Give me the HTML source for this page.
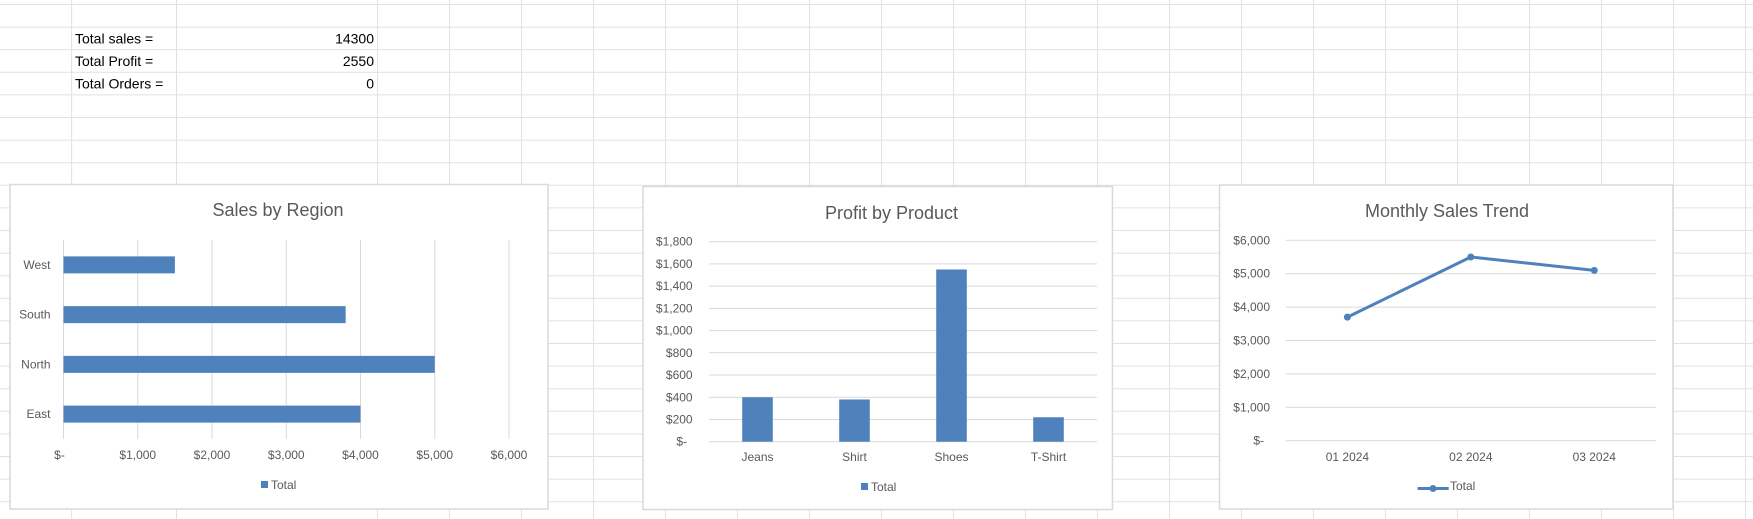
<!DOCTYPE html>
<html><head><meta charset="utf-8"><style>
html,body{margin:0;padding:0;background:#fff;}
svg{display:block;font-family:"Liberation Sans",sans-serif;}
</style></head><body>
<svg id="s" width="1753" height="519" viewBox="0 0 1753 519">
<g id="grid"></g>
<g font-size="14" fill="#000">
<text x="75" y="43.5">Total sales =</text>
<text x="374" y="43.5" text-anchor="end">14300</text>
<text x="75" y="66">Total Profit =</text>
<text x="374" y="66" text-anchor="end">2550</text>
<text x="75" y="88.5">Total Orders =</text>
<text x="374" y="88.5" text-anchor="end">0</text>
</g>
<g id="c1"></g>
<g id="c2"></g>
<g id="c3"></g>
</svg>
<script>
// Chart 1 data
const regionCats = ["West","South","North","East"];
const regionSales = [1500,3800,5000,4000];
const regionTicks = [0,1000,2000,3000,4000,5000,6000];
const regionTickLabels = ["$-","$1,000","$2,000","$3,000","$4,000","$5,000","$6,000"];
// Chart 2 data
const productCats = ["Jeans","Shirt","Shoes","T-Shirt"];
const productProfit = [400,380,1550,220];
const profitTicks = [0,200,400,600,800,1000,1200,1400,1600,1800];
const profitTickLabels = ["$-","$200","$400","$600","$800","$1,000","$1,200","$1,400","$1,600","$1,800"];
// Chart 3 data
const monthCats = ["01 2024","02 2024","03 2024"];
const monthSales = [3700,5500,5100];
const trendTicks = [0,1000,2000,3000,4000,5000,6000];
const trendTickLabels = ["$-","$1,000","$2,000","$3,000","$4,000","$5,000","$6,000"];

const NS="http://www.w3.org/2000/svg";
const BLUE="#4F81BD", TXT="#595959", GL="#d9d9d9";
function mk(parent,tag,attrs,text){const e=document.createElementNS(NS,tag);for(const k in attrs)e.setAttribute(k,attrs[k]);if(text!==undefined)e.textContent=text;parent.appendChild(e);return e;}

// sheet grid
const g=document.getElementById('grid');
const cols=[71.6,176.5,377.5];for(let x=449.5;x<1753;x+=72)cols.push(x);
cols.forEach(x=>{const l=mk(g,'line',{x1:x,y1:0,x2:x,y2:519,stroke:"#e1e1e1","stroke-width":1});

});
for(let y=4.5;y<519;y+=22.6){const l=mk(g,'line',{x1:0,y1:y,x2:1753,y2:y,stroke:"#e1e1e1","stroke-width":1});

}

function frame(p,x,y,w,h,title,tx,ty){
 const r=mk(p,'rect',{x:x,y:y,width:w,height:h,fill:"#fff",stroke:GL,"stroke-width":1.5});
 
 
 const t=mk(p,'text',{x:tx,y:ty,"text-anchor":"middle","font-size":18,fill:TXT},title);
 
 
}

// Chart 1: horizontal bars
(function(){
 const p=document.getElementById('c1');
 frame(p,10,184.5,538,324.5,"Sales by Region",278,216);
 const x0=63.5,x1=509,yTop=240,yBot=439;
 const xs=v=>x0+(v/6000)*(x1-x0);
 const band=(yBot-yTop)/regionCats.length;
 regionTicks.forEach((v,i)=>{
  const l=mk(p,'line',{x1:xs(v),y1:yTop,x2:xs(v),y2:yBot,stroke:GL,"stroke-width":1});
  
  
  const t=mk(p,'text',{x:xs(v)+(i===0?-4:0),y:459,"text-anchor":"middle","font-size":12,fill:TXT},regionTickLabels[i]);
  
  
 });
 regionCats.forEach((c,i)=>{
  const cy=yTop+band*(i+0.5);
  const b=mk(p,'rect',{x:xs(0),y:cy-8.5,width:xs(regionSales[i])-xs(0),height:17,fill:BLUE});
  
  
  const t=mk(p,'text',{x:50.5,y:cy+4,"text-anchor":"end","font-size":12,fill:TXT},c);
  
  
 });
 const s=mk(p,'rect',{x:261,y:481,width:7,height:7,fill:BLUE});
 
 
 const lt=mk(p,'text',{x:271,y:489,"font-size":12,fill:TXT},"Total");
 
 
})();

// Chart 2: vertical bars
(function(){
 const p=document.getElementById('c2');
 frame(p,643,186.5,469.5,323,"Profit by Product",891.5,219);
 const x0=709,x1=1097,yTop=241.7,yBot=441.7;
 const ys=v=>yBot-(v/1800)*(yBot-yTop);
 const band=(x1-x0)/productCats.length;
 profitTicks.forEach((v,i)=>{
  const l=mk(p,'line',{x1:x0,y1:ys(v),x2:x1,y2:ys(v),stroke:GL,"stroke-width":1});
  
  
  const t=mk(p,'text',{x:i===0?687:692.6,y:ys(v)+4,"text-anchor":"end","font-size":12,fill:TXT},profitTickLabels[i]);
  
  
 });
 productCats.forEach((c,i)=>{
  const cx=x0+band*(i+0.5);
  const b=mk(p,'rect',{x:cx-15.3,y:ys(productProfit[i]),width:30.6,height:yBot-ys(productProfit[i]),fill:BLUE});
  
  
  const t=mk(p,'text',{x:cx,y:461,"text-anchor":"middle","font-size":12,fill:TXT},c);
  
  
 });
 const s=mk(p,'rect',{x:861,y:483,width:7,height:7,fill:BLUE});
 
 
 const lt=mk(p,'text',{x:871,y:491,"font-size":12,fill:TXT},"Total");
 
 
})();

// Chart 3: line
(function(){
 const p=document.getElementById('c3');
 frame(p,1219.5,185,453.5,324,"Monthly Sales Trend",1447,217);
 const x0=1285.7,x1=1656,yTop=240.3,yBot=440.7;
 const ys=v=>yBot-(v/6000)*(yBot-yTop);
 const band=(x1-x0)/monthCats.length;
 const xc=i=>x0+band*(i+0.5);
 trendTicks.forEach((v,i)=>{
  const l=mk(p,'line',{x1:x0,y1:ys(v),x2:x1,y2:ys(v),stroke:GL,"stroke-width":1});
  
  
  const t=mk(p,'text',{x:i===0?1264:1270,y:ys(v)+4,"text-anchor":"end","font-size":12,fill:TXT},trendTickLabels[i]);
  
  
 });
 monthCats.forEach((c,i)=>{
  const t=mk(p,'text',{x:xc(i),y:461,"text-anchor":"middle","font-size":12,fill:TXT},c);
  
  
 });
 const pts=monthSales.map((v,i)=>xc(i)+","+ys(v)).join(" ");
 const pl=mk(p,'polyline',{points:pts,fill:"none",stroke:BLUE,"stroke-width":3,"stroke-linejoin":"round"});
 
 
 monthSales.forEach((v,i)=>{
  const c=mk(p,'circle',{cx:xc(i),cy:ys(v),r:3.5,fill:BLUE});
  
  
 });
 const ll=mk(p,'line',{x1:1417.6,y1:488.5,x2:1448.7,y2:488.5,stroke:BLUE,"stroke-width":3});
 
 
 const lc=mk(p,'circle',{cx:1433,cy:488.5,r:3.5,fill:BLUE});
 
 
 const lt=mk(p,'text',{x:1450,y:490,"font-size":12,fill:TXT},"Total");
 
 
})();
</script>
</body></html>
